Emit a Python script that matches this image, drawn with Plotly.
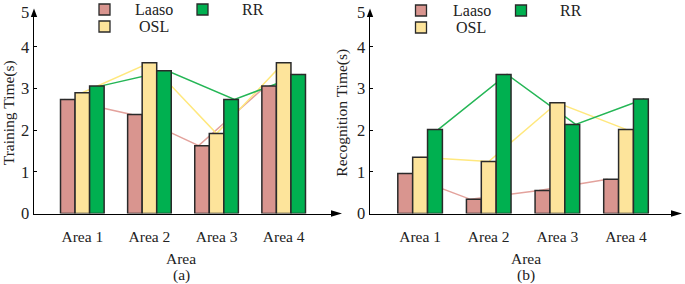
import plotly.graph_objects as go

categories = ["Area 1", "Area 2", "Area 3", "Area 4"]
series_names = ["Laaso", "OSL", "RR"]
train_laaso = [2.74, 2.38, 1.63, 3.06]
train_osl = [2.90, 3.62, 1.92, 3.62]
train_rr = [3.06, 3.43, 2.74, 3.34]
recog_laaso = [0.96, 0.34, 0.55, 0.82]
recog_osl = [1.35, 1.25, 2.66, 2.02]
recog_rr = [2.02, 3.34, 2.14, 2.75]
y_tick_labels = ["0", "1", "2", "3", "4", "5"]

W, H = 685, 284
FONT = "Liberation Serif"
bar_colors = ["#D9958F", "#FDE49B", "#00B050"]
line_colors = ["#E3A29C", "#FFE87E", "#25B656"]

fig = go.Figure()

panels = [
    dict(data=[train_laaso, train_osl, train_rr], lx="x", ly="y", bx="x2", by="y2"),
    dict(data=[recog_laaso, recog_osl, recog_rr], lx="x3", ly="y3", bx="x4", by="y4"),
]
for p in panels:
    for i, vals in enumerate(p["data"]):
        fig.add_trace(go.Scatter(x=categories, y=vals, mode="lines",
                                 line=dict(color=line_colors[i], width=1.5),
                                 offsetgroup=str(i), xaxis=p["lx"], yaxis=p["ly"],
                                 showlegend=False, hoverinfo="skip"))
    for i, vals in enumerate(p["data"]):
        fig.add_trace(go.Bar(x=categories, y=vals, name=series_names[i],
                             marker=dict(color=bar_colors[i], line=dict(color="#2a2a2a", width=1.5)),
                             offsetgroup=str(i), xaxis=p["bx"], yaxis=p["by"],
                             showlegend=False))

def px(x):
    return x / W

def py(y):
    return 1 - y / H

y_top = 4.84
y0_pix = 213.5
ydom = [py(y0_pix), py(12)]
tickvals = [0, 1, 2, 3, 4, y_top]

def xaxis_common(dom, rng):
    return dict(domain=dom, range=rng, showline=True, linecolor="black", linewidth=1.5,
                ticks="", showgrid=False, zeroline=False, automargin=False,
                tickfont=dict(family=FONT, size=15.5, color="#222"), ticklabelstandoff=8)

def yaxis_common(anchor):
    return dict(domain=ydom, range=[0, y_top], anchor=anchor, showline=True, linecolor="black",
                linewidth=1.5, ticks="inside", ticklen=3, tickcolor="black", showgrid=False,
                zeroline=False, tickvals=tickvals, ticktext=y_tick_labels, automargin=False,
                tickfont=dict(family=FONT, size=16.5, color="#222"))

left_dom = [px(34), px(332)]
right_dom = [px(370), px(672)]
left_rng = [-0.72, 3.72]
right_rng = [-0.73, 3.67]

fig.update_layout(
    width=W, height=H, margin=dict(l=0, r=0, t=0, b=0, autoexpand=False),
    paper_bgcolor="white", plot_bgcolor="rgba(0,0,0,0)",
    barmode="group", bargap=0.35, bargroupgap=0, scattermode="group",
    showlegend=False, hovermode=False,
    font=dict(family=FONT, color="#222"),
    xaxis=dict(**xaxis_common(left_dom, left_rng), anchor="y"),
    yaxis=dict(**yaxis_common("x"), title=dict(text="Training Time(s)", font=dict(size=15.5), standoff=5)),
    xaxis2=dict(range=left_rng, overlaying="x", anchor="y2", visible=False, domain=left_dom),
    yaxis2=dict(range=[0, y_top], overlaying="y", anchor="x2", visible=False, domain=ydom),
    xaxis3=dict(**xaxis_common(right_dom, right_rng), anchor="y3"),
    yaxis3=dict(**yaxis_common("x3"), title=dict(text="Recognition Time(s)", font=dict(size=15.5), standoff=5)),
    xaxis4=dict(range=right_rng, overlaying="x3", anchor="y4", visible=False, domain=right_dom),
    yaxis4=dict(range=[0, y_top], overlaying="y3", anchor="x4", visible=False, domain=ydom),
)

shapes = []
# axis arrowheads
for ax_x, x_end in [(34, 332), (370, 672)]:
    shapes.append(dict(type="path", xref="paper", yref="paper",
                       path=f"M {px(ax_x-3.2)},{py(17)} L {px(ax_x+3.2)},{py(17)} L {px(ax_x)},{py(8.5)} Z",
                       fillcolor="black", line=dict(width=0)))
    shapes.append(dict(type="path", xref="paper", yref="paper",
                       path=f"M {px(x_end-1)},{py(y0_pix-3.3)} L {px(x_end-1)},{py(y0_pix+3.3)} L {px(x_end+10)},{py(y0_pix)} Z",
                       fillcolor="black", line=dict(width=0)))

annotations = []
legend_specs = [
    # (square center x, square center y, text center x, text center y, color idx)
    [(104.5, 9.5, 153.5, 9.5, 0), (104.5, 26.5, 153.5, 26.5, 1), (202.5, 9.5, 252.5, 9.5, 2)],
    [(421, 10.5, 472, 10.5, 0), (421, 27.5, 471.5, 27.5, 1), (521, 10.5, 570.5, 10.5, 2)],
]
for spec in legend_specs:
    for sx, sy, tx, ty, ci in spec:
        shapes.append(dict(type="rect", xref="paper", yref="paper",
                           x0=px(sx-5.5), x1=px(sx+5.5), y0=py(sy+5.5), y1=py(sy-5.5),
                           fillcolor=bar_colors[ci], line=dict(color="#2a2a2a", width=1.3)))
        annotations.append(dict(text=series_names[ci], xref="paper", yref="paper",
                                x=px(tx), y=py(ty), xanchor="center", yanchor="middle",
                                showarrow=False, font=dict(family=FONT, size=16, color="#222")))

for cx, lab in [(181, "(a)"), (526, "(b)")]:
    annotations.append(dict(text="Area", xref="paper", yref="paper", x=px(cx), y=py(258),
                            xanchor="center", yanchor="middle", showarrow=False,
                            font=dict(family=FONT, size=15.5, color="#222")))
    annotations.append(dict(text=lab, xref="paper", yref="paper", x=px(cx), y=py(275),
                            xanchor="center", yanchor="middle", showarrow=False,
                            font=dict(family=FONT, size=15.5, color="#222")))

fig.update_layout(shapes=shapes, annotations=annotations)
fig.write_html("out.html", config={"displayModeBar": False, "staticPlot": True},
               post_script="document.body.style.margin='0';document.body.style.padding='0';")
